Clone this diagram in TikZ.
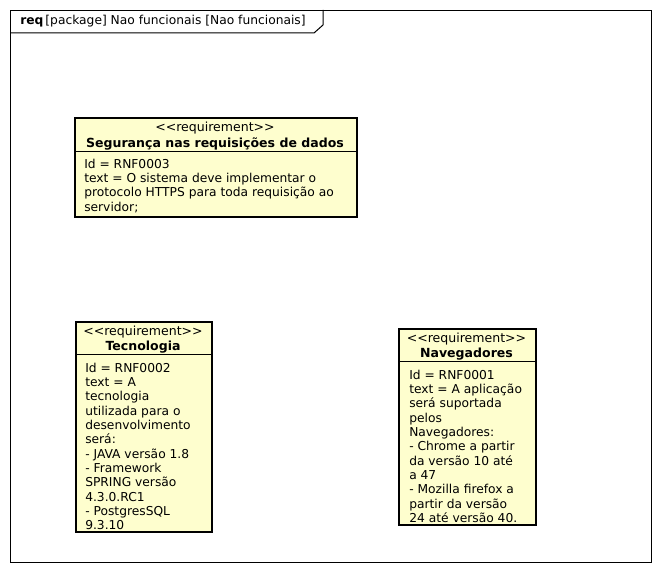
\documentclass[tikz,border=0pt]{standalone}
\usepackage{fontspec}
\setmainfont{DejaVu Sans}
\definecolor{reqfill}{HTML}{FEFECE}
\newcommand{\stereo}{{<}{<}requirement{>}{>}}
\begin{document}
\begin{tikzpicture}[x=0.75pt,y=-0.75pt,
  reqbox/.style={draw=black,line width=1.5pt,fill=reqfill,rectangle,inner sep=0pt,anchor=north west},
  hdr/.style={anchor=base,inner sep=0pt,font=\fontsize{9.4}{10.75}\selectfont},
  body/.style={anchor=north west,inner sep=0pt,align=left,font=\fontsize{9.2}{10.75}\selectfont},
  frame/.style={draw=black,line width=0.75pt}]
\useasboundingbox (0,0) rectangle (660,573);
% package frame
\node[frame,rectangle,minimum width=641*0.75pt,minimum height=552*0.75pt,anchor=north west,inner sep=0pt] (pkg) at (10,10) {};
\coordinate (t1) at (10,33);
\coordinate (t2) at (314,33);
\coordinate (t3) at (323,25);
\coordinate (t4) at (323,10);
\draw[frame] (t1) -- (t2) -- (t3) -- (t4);
\node[anchor=base west,inner sep=0pt,font=\fontsize{9.2}{10.75}\selectfont] (title) at (20,25) {\textbf{req}\,[package] Nao funcionais [Nao funcionais]};

% box 1
\node[reqbox,minimum width=282*0.75pt,minimum height=99*0.75pt] (b1) at (74,117) {};
\coordinate (b1l) at (74,152);
\coordinate (b1r) at (356,152);
\draw[line width=0.75pt] (b1l) -- (b1r);
\node[hdr] (b1s) at (215,132) {\stereo};
\node[hdr] (b1t) at (215,147.5) {\textbf{Segurança nas requisições de dados}};
\node[body] (b1b) at (84,158.5) {Id = RNF0003\\text = O sistema deve implementar o\\protocolo HTTPS para toda requisição ao\\servidor;};

% box 2
\node[reqbox,minimum width=136*0.75pt,minimum height=210*0.75pt] (b2) at (75,321) {};
\coordinate (b2l) at (75,355);
\coordinate (b2r) at (211,355);
\draw[line width=0.75pt] (b2l) -- (b2r);
\node[hdr] (b2s) at (143,336) {\stereo};
\node[hdr] (b2t) at (143,351) {\textbf{Tecnologia}};
\node[body] (b2b) at (85,362.5) {Id = RNF0002\\text = A\\tecnologia\\utilizada para o\\desenvolvimento\\será:\\- JAVA versão 1.8\\- Framework\\SPRING versão\\4.3.0.RC1\\- PostgresSQL\\9.3.10};

% box 3
\node[reqbox,minimum width=137*0.75pt,minimum height=196*0.75pt] (b3) at (398,328) {};
\coordinate (b3l) at (398,362);
\coordinate (b3r) at (535,362);
\draw[line width=0.75pt] (b3l) -- (b3r);
\node[hdr] (b3s) at (466.5,343) {\stereo};
\node[hdr] (b3t) at (466.5,358) {\textbf{Navegadores}};
\node[body] (b3b) at (409,369.5) {Id = RNF0001\\text = A aplicação\\será suportada\\pelos\\Navegadores:\\- Chrome a partir\\da versão 10 até\\a 47\\- Mozilla firefox a\\partir da versão\\24 até versão 40.};
\end{tikzpicture}
\end{document}
